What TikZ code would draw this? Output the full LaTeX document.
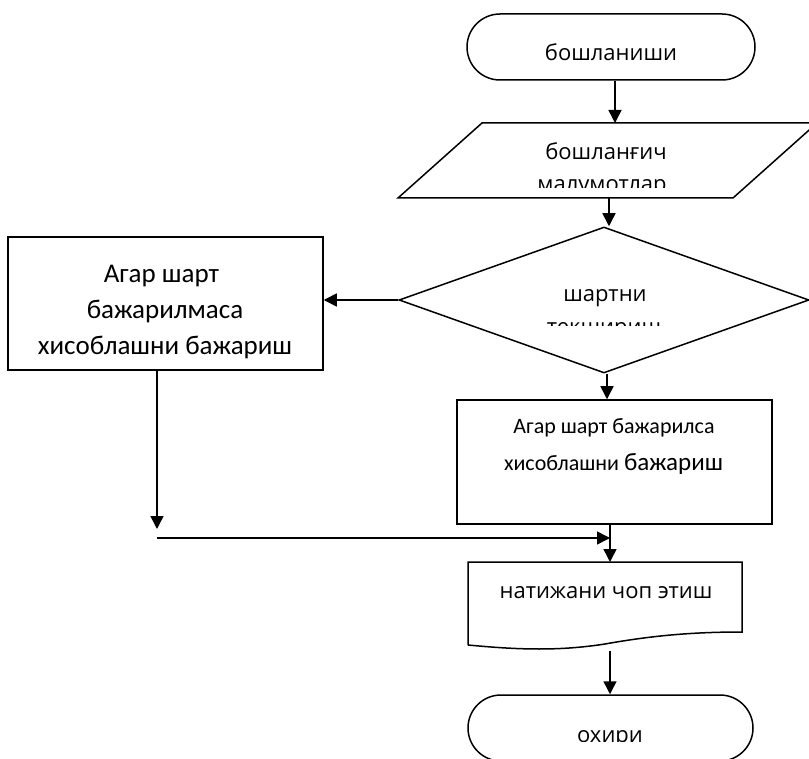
\documentclass[tikz,border=0pt]{standalone}
\usepackage{fontspec}
\setmainfont{Open Sans}
\newfontfamily\calib{Carlito}
\usetikzlibrary{arrows.meta,shapes.geometric,calc}
\begin{document}
\begin{tikzpicture}[x=1pt,y=-1pt,line width=1.5pt,
  arr/.style={-{Triangle[length=13pt,width=13pt]},line width=1.5pt},
  shapebox/.style={draw,inner sep=0pt},
  frame/.style={inner sep=0pt,outer sep=0pt},
  lbl/.style={anchor=base,inner sep=0pt,font=\fontsize{22}{26}\selectfont},
  clbl/.style={anchor=base,inner sep=0pt,font=\calib\fontsize{27}{32}\selectfont},
  slbl/.style={anchor=base,inner sep=0pt,font=\calib\fontsize{22}{26}\selectfont}]
\useasboundingbox (0,0) rectangle (809,759);
\clip (0,0) rectangle (809,759);
% shapes
\node[shapebox,rounded corners=33pt,minimum width=288pt,minimum height=66pt] (start) at (611,47) {};
\node[frame,minimum width=419pt,minimum height=75pt] (para) at (607.5,160.5) {};
\draw ($(para.north west)+(84,0)$) -- (para.north east) -- ($(para.south east)-(84,0)$) -- (para.south west) -- cycle;
\node[shapebox,diamond,minimum width=410pt,minimum height=146pt] (cond) at (604,300) {};
\node[shapebox,minimum width=315pt,minimum height=133pt] (no) at (165.5,303.5) {};
\node[shapebox,minimum width=315pt,minimum height=124pt] (yes) at (614.5,462) {};
\node[frame,minimum width=274pt,minimum height=87pt] (out) at (605,605.5) {};
\draw (468,645) -- (468,562) -- (742,562) -- (742,632)
  .. controls (690,632) and (650,636) .. (605,644)
  .. controls (560,651) and (520,650) .. (468,645);
\node[shapebox,rounded corners=33pt,minimum width=285pt,minimum height=66pt] (end) at (610.5,728) {};
% texts
\node[lbl] (t1) at (611,61) {бошланиши};
\node[lbl] (t2) at (606,160) {бошланғич};
\begin{scope}
  \clip (398,123) rectangle (809,188);
  \node[lbl] (t3) at (602,192) {малумотлар};
\end{scope}
\node[lbl] (t4) at (605,302) {шартни};
\begin{scope}
  \clip (400,227) rectangle (809,326);
  \node[lbl] (t5) at (604,335) {текшириш};
\end{scope}
\node[clbl] (t6) at (161.5,283) {Агар шарт};
\node[clbl] (t7) at (165,319) {бажарилмаса};
\node[clbl] (t8) at (165,355) {хисоблашни бажариш};
\node[slbl] (t9) at (614,433) {Агар шарт бажарилса};
\node[slbl] (t10) at (613.5,470) {хисоблашни {\fontsize{25}{30}\selectfont бажариш}};
\node[lbl] (t11) at (606,598) {натижани чоп этиш};
\begin{scope}
  \clip (468,695) rectangle (753,741);
  \node[lbl] (t12) at (610,742) {охири};
\end{scope}
% connectors
\coordinate (xa) at (615,0);
\coordinate (xb) at (609,0);
\coordinate (xc) at (607,0);
\coordinate (xd) at (610,0);
\coordinate (xl) at (157,0);
\coordinate (ja) at (157,529);
\coordinate (jb) at (157,538);
\coordinate (jc) at (610,538);
\coordinate (docb) at (610,651);
\draw[arr] (start.south -| xa) -- (para.north -| xa);
\draw[arr] (para.south -| xb) -- (cond.north -| xb);
\draw[arr] (cond.west) -- (no.east |- cond.west);
\draw[arr] (cond.south -| xc) -- (yes.north -| xc);
\draw[arr] (yes.south -| xd) -- (out.north -| xd);
\draw[arr] (no.south -| xl) -- (ja);
\draw[arr] (jb) -- (jc);
\draw[arr] (docb) -- (end.north -| docb);
\end{tikzpicture}
\end{document}
